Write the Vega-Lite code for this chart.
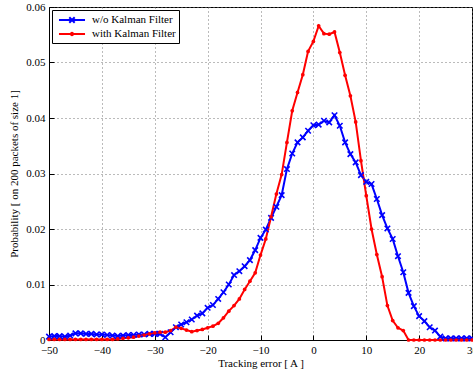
{
  "$schema": "https://vega.github.io/schema/vega-lite/v6.json",
  "width": 423,
  "height": 333,
  "autosize": {"type": "none"},
  "padding": {"left": 49, "top": 7, "right": 1, "bottom": 34},
  "background": "white",
  "config": {
    "font": "Liberation Serif",
    "view": {"stroke": "black", "strokeWidth": 1},
    "axis": {
      "labelFont": "Liberation Serif",
      "titleFont": "Liberation Serif",
      "labelFontSize": 11,
      "titleFontSize": 11,
      "titleFontWeight": "normal",
      "labelColor": "black",
      "titleColor": "black",
      "domainColor": "black",
      "tickColor": "black",
      "gridColor": "#777777",
      "gridDash": [1, 3],
      "gridWidth": 1,
      "tickSize": -5,
      "labelFlush": false,
      "labelBound": false,
      "labelOverlap": false
    },
    "legend": {
      "labelFont": "Liberation Serif",
      "labelFontSize": 11,
      "labelColor": "black"
    }
  },
  "data": {
    "values": [
      {"error": -50, "series": "w/o Kalman Filter", "prob": 0.0006},
      {"error": -49, "series": "w/o Kalman Filter", "prob": 0.0007},
      {"error": -48, "series": "w/o Kalman Filter", "prob": 0.0007},
      {"error": -47, "series": "w/o Kalman Filter", "prob": 0.0006},
      {"error": -46, "series": "w/o Kalman Filter", "prob": 0.0008},
      {"error": -45, "series": "w/o Kalman Filter", "prob": 0.0012},
      {"error": -44, "series": "w/o Kalman Filter", "prob": 0.0012},
      {"error": -43, "series": "w/o Kalman Filter", "prob": 0.0011},
      {"error": -42, "series": "w/o Kalman Filter", "prob": 0.0011},
      {"error": -41, "series": "w/o Kalman Filter", "prob": 0.0010},
      {"error": -40, "series": "w/o Kalman Filter", "prob": 0.0010},
      {"error": -39, "series": "w/o Kalman Filter", "prob": 0.0009},
      {"error": -38, "series": "w/o Kalman Filter", "prob": 0.0008},
      {"error": -37, "series": "w/o Kalman Filter", "prob": 0.0007},
      {"error": -36, "series": "w/o Kalman Filter", "prob": 0.0008},
      {"error": -35, "series": "w/o Kalman Filter", "prob": 0.0009},
      {"error": -34, "series": "w/o Kalman Filter", "prob": 0.0009},
      {"error": -33, "series": "w/o Kalman Filter", "prob": 0.0010},
      {"error": -32, "series": "w/o Kalman Filter", "prob": 0.0010},
      {"error": -31, "series": "w/o Kalman Filter", "prob": 0.0011},
      {"error": -30, "series": "w/o Kalman Filter", "prob": 0.0011},
      {"error": -29, "series": "w/o Kalman Filter", "prob": 0.0011},
      {"error": -28, "series": "w/o Kalman Filter", "prob": 0.0005},
      {"error": -27, "series": "w/o Kalman Filter", "prob": 0.0014},
      {"error": -26, "series": "w/o Kalman Filter", "prob": 0.0023},
      {"error": -25, "series": "w/o Kalman Filter", "prob": 0.0028},
      {"error": -24, "series": "w/o Kalman Filter", "prob": 0.0032},
      {"error": -23, "series": "w/o Kalman Filter", "prob": 0.0037},
      {"error": -22, "series": "w/o Kalman Filter", "prob": 0.0044},
      {"error": -21, "series": "w/o Kalman Filter", "prob": 0.0048},
      {"error": -20, "series": "w/o Kalman Filter", "prob": 0.0058},
      {"error": -19, "series": "w/o Kalman Filter", "prob": 0.0063},
      {"error": -18, "series": "w/o Kalman Filter", "prob": 0.0074},
      {"error": -17, "series": "w/o Kalman Filter", "prob": 0.0086},
      {"error": -16, "series": "w/o Kalman Filter", "prob": 0.0100},
      {"error": -15, "series": "w/o Kalman Filter", "prob": 0.0117},
      {"error": -14, "series": "w/o Kalman Filter", "prob": 0.0124},
      {"error": -13, "series": "w/o Kalman Filter", "prob": 0.0133},
      {"error": -12, "series": "w/o Kalman Filter", "prob": 0.0144},
      {"error": -11, "series": "w/o Kalman Filter", "prob": 0.0162},
      {"error": -10, "series": "w/o Kalman Filter", "prob": 0.0184},
      {"error": -9, "series": "w/o Kalman Filter", "prob": 0.0199},
      {"error": -8, "series": "w/o Kalman Filter", "prob": 0.0220},
      {"error": -7, "series": "w/o Kalman Filter", "prob": 0.0240},
      {"error": -6, "series": "w/o Kalman Filter", "prob": 0.0261},
      {"error": -5, "series": "w/o Kalman Filter", "prob": 0.0308},
      {"error": -4, "series": "w/o Kalman Filter", "prob": 0.0336},
      {"error": -3, "series": "w/o Kalman Filter", "prob": 0.0356},
      {"error": -2, "series": "w/o Kalman Filter", "prob": 0.0365},
      {"error": -1, "series": "w/o Kalman Filter", "prob": 0.0377},
      {"error": 0, "series": "w/o Kalman Filter", "prob": 0.0387},
      {"error": 1, "series": "w/o Kalman Filter", "prob": 0.0388},
      {"error": 2, "series": "w/o Kalman Filter", "prob": 0.0395},
      {"error": 3, "series": "w/o Kalman Filter", "prob": 0.0392},
      {"error": 4, "series": "w/o Kalman Filter", "prob": 0.0405},
      {"error": 5, "series": "w/o Kalman Filter", "prob": 0.0386},
      {"error": 6, "series": "w/o Kalman Filter", "prob": 0.0356},
      {"error": 7, "series": "w/o Kalman Filter", "prob": 0.0335},
      {"error": 8, "series": "w/o Kalman Filter", "prob": 0.0320},
      {"error": 9, "series": "w/o Kalman Filter", "prob": 0.0297},
      {"error": 10, "series": "w/o Kalman Filter", "prob": 0.0285},
      {"error": 11, "series": "w/o Kalman Filter", "prob": 0.0281},
      {"error": 12, "series": "w/o Kalman Filter", "prob": 0.0254},
      {"error": 13, "series": "w/o Kalman Filter", "prob": 0.0225},
      {"error": 14, "series": "w/o Kalman Filter", "prob": 0.0201},
      {"error": 15, "series": "w/o Kalman Filter", "prob": 0.0182},
      {"error": 16, "series": "w/o Kalman Filter", "prob": 0.0151},
      {"error": 17, "series": "w/o Kalman Filter", "prob": 0.0122},
      {"error": 18, "series": "w/o Kalman Filter", "prob": 0.0085},
      {"error": 19, "series": "w/o Kalman Filter", "prob": 0.0061},
      {"error": 20, "series": "w/o Kalman Filter", "prob": 0.0043},
      {"error": 21, "series": "w/o Kalman Filter", "prob": 0.0034},
      {"error": 22, "series": "w/o Kalman Filter", "prob": 0.0023},
      {"error": 23, "series": "w/o Kalman Filter", "prob": 0.0017},
      {"error": 24, "series": "w/o Kalman Filter", "prob": 0.0006},
      {"error": 25, "series": "w/o Kalman Filter", "prob": 0.0003},
      {"error": 26, "series": "w/o Kalman Filter", "prob": 0.0003},
      {"error": 27, "series": "w/o Kalman Filter", "prob": 0.0003},
      {"error": 28, "series": "w/o Kalman Filter", "prob": 0.0003},
      {"error": 29, "series": "w/o Kalman Filter", "prob": 0.0003},
      {"error": 30, "series": "w/o Kalman Filter", "prob": 0.0003},
      {"error": -50, "series": "with Kalman Filter", "prob": 0.0001},
      {"error": -49, "series": "with Kalman Filter", "prob": 0.0001},
      {"error": -48, "series": "with Kalman Filter", "prob": 0.0001},
      {"error": -47, "series": "with Kalman Filter", "prob": 0.0001},
      {"error": -46, "series": "with Kalman Filter", "prob": 0.0001},
      {"error": -45, "series": "with Kalman Filter", "prob": 0.0001},
      {"error": -44, "series": "with Kalman Filter", "prob": 0.0001},
      {"error": -43, "series": "with Kalman Filter", "prob": 0.0001},
      {"error": -42, "series": "with Kalman Filter", "prob": 0.0001},
      {"error": -41, "series": "with Kalman Filter", "prob": 0.0001},
      {"error": -40, "series": "with Kalman Filter", "prob": 0.0001},
      {"error": -39, "series": "with Kalman Filter", "prob": 0.0001},
      {"error": -38, "series": "with Kalman Filter", "prob": 0.0001},
      {"error": -37, "series": "with Kalman Filter", "prob": 0.0002},
      {"error": -36, "series": "with Kalman Filter", "prob": 0.0003},
      {"error": -35, "series": "with Kalman Filter", "prob": 0.0004},
      {"error": -34, "series": "with Kalman Filter", "prob": 0.0005},
      {"error": -33, "series": "with Kalman Filter", "prob": 0.0007},
      {"error": -32, "series": "with Kalman Filter", "prob": 0.0009},
      {"error": -31, "series": "with Kalman Filter", "prob": 0.0011},
      {"error": -30, "series": "with Kalman Filter", "prob": 0.0013},
      {"error": -29, "series": "with Kalman Filter", "prob": 0.0014},
      {"error": -28, "series": "with Kalman Filter", "prob": 0.0014},
      {"error": -27, "series": "with Kalman Filter", "prob": 0.0017},
      {"error": -26, "series": "with Kalman Filter", "prob": 0.0023},
      {"error": -25, "series": "with Kalman Filter", "prob": 0.0021},
      {"error": -24, "series": "with Kalman Filter", "prob": 0.0018},
      {"error": -23, "series": "with Kalman Filter", "prob": 0.0015},
      {"error": -22, "series": "with Kalman Filter", "prob": 0.0017},
      {"error": -21, "series": "with Kalman Filter", "prob": 0.0019},
      {"error": -20, "series": "with Kalman Filter", "prob": 0.0022},
      {"error": -19, "series": "with Kalman Filter", "prob": 0.0025},
      {"error": -18, "series": "with Kalman Filter", "prob": 0.0030},
      {"error": -17, "series": "with Kalman Filter", "prob": 0.0040},
      {"error": -16, "series": "with Kalman Filter", "prob": 0.0052},
      {"error": -15, "series": "with Kalman Filter", "prob": 0.0062},
      {"error": -14, "series": "with Kalman Filter", "prob": 0.0074},
      {"error": -13, "series": "with Kalman Filter", "prob": 0.0091},
      {"error": -12, "series": "with Kalman Filter", "prob": 0.0106},
      {"error": -11, "series": "with Kalman Filter", "prob": 0.0121},
      {"error": -10, "series": "with Kalman Filter", "prob": 0.0153},
      {"error": -9, "series": "with Kalman Filter", "prob": 0.0182},
      {"error": -8, "series": "with Kalman Filter", "prob": 0.0222},
      {"error": -7, "series": "with Kalman Filter", "prob": 0.0263},
      {"error": -6, "series": "with Kalman Filter", "prob": 0.0298},
      {"error": -5, "series": "with Kalman Filter", "prob": 0.0356},
      {"error": -4, "series": "with Kalman Filter", "prob": 0.0413},
      {"error": -3, "series": "with Kalman Filter", "prob": 0.0446},
      {"error": -2, "series": "with Kalman Filter", "prob": 0.0478},
      {"error": -1, "series": "with Kalman Filter", "prob": 0.0520},
      {"error": 0, "series": "with Kalman Filter", "prob": 0.0538},
      {"error": 1, "series": "with Kalman Filter", "prob": 0.0566},
      {"error": 2, "series": "with Kalman Filter", "prob": 0.0552},
      {"error": 3, "series": "with Kalman Filter", "prob": 0.0551},
      {"error": 4, "series": "with Kalman Filter", "prob": 0.0555},
      {"error": 5, "series": "with Kalman Filter", "prob": 0.0518},
      {"error": 6, "series": "with Kalman Filter", "prob": 0.0477},
      {"error": 7, "series": "with Kalman Filter", "prob": 0.0440},
      {"error": 8, "series": "with Kalman Filter", "prob": 0.0393},
      {"error": 9, "series": "with Kalman Filter", "prob": 0.0323},
      {"error": 10, "series": "with Kalman Filter", "prob": 0.0260},
      {"error": 11, "series": "with Kalman Filter", "prob": 0.0200},
      {"error": 12, "series": "with Kalman Filter", "prob": 0.0154},
      {"error": 13, "series": "with Kalman Filter", "prob": 0.0114},
      {"error": 14, "series": "with Kalman Filter", "prob": 0.0062},
      {"error": 15, "series": "with Kalman Filter", "prob": 0.0035},
      {"error": 16, "series": "with Kalman Filter", "prob": 0.0022},
      {"error": 17, "series": "with Kalman Filter", "prob": 0.0017},
      {"error": 18, "series": "with Kalman Filter", "prob": 0.0},
      {"error": 19, "series": "with Kalman Filter", "prob": 0.0},
      {"error": 20, "series": "with Kalman Filter", "prob": 0.0},
      {"error": 21, "series": "with Kalman Filter", "prob": 0.0},
      {"error": 22, "series": "with Kalman Filter", "prob": 0.0},
      {"error": 23, "series": "with Kalman Filter", "prob": 0.0},
      {"error": 24, "series": "with Kalman Filter", "prob": 0.0},
      {"error": 25, "series": "with Kalman Filter", "prob": 0.0},
      {"error": 26, "series": "with Kalman Filter", "prob": 0.0},
      {"error": 27, "series": "with Kalman Filter", "prob": 0.0},
      {"error": 28, "series": "with Kalman Filter", "prob": 0.0},
      {"error": 29, "series": "with Kalman Filter", "prob": 0.0},
      {"error": 30, "series": "with Kalman Filter", "prob": 0.0}
    ]
  },
  "encoding": {
    "x": {
      "field": "error",
      "type": "quantitative",
      "scale": {"domain": [-50, 30], "nice": false, "zero": false},
      "axis": {"title": "Tracking error [ A ]", "values": [-50, -40, -30, -20, -10, 0, 10, 20, 30], "labelPadding": 9, "titlePadding": 2}
    },
    "y": {
      "field": "prob",
      "type": "quantitative",
      "scale": {"domain": [0, 0.06], "nice": false},
      "axis": {"title": "Probability [ on 200 packets of size 1]", "values": [0, 0.01, 0.02, 0.03, 0.04, 0.05, 0.06], "format": ".2~f", "labelPadding": 9, "titlePadding": 6}
    }
  },
  "layer": [
    {
      "mark": {"type": "point", "filled": false, "size": 144, "strokeWidth": 2, "opacity": 0},
      "encoding": {
        "color": {
          "field": "series",
          "type": "nominal",
          "scale": {"domain": ["w/o Kalman Filter", "with Kalman Filter"], "range": ["#0000ff", "#ff0000"]},
          "legend": {
            "title": null,
            "orient": "top-left",
            "offset": 3,
            "padding": 3,
            "strokeColor": "black",
            "fillColor": "white",
            "symbolSize": 144,
            "symbolStrokeWidth": 2,
            "symbolOpacity": 1,
            "symbolOffset": 10,
            "rowPadding": -2,
            "labelOffset": 13
          }
        },
        "shape": {
          "field": "series",
          "type": "nominal",
          "scale": {"domain": ["w/o Kalman Filter", "with Kalman Filter"], "range": ["M-2.17,0L2.17,0M-0.45,-0.45L0.45,0.45M-0.45,0.45L0.45,-0.45", "M-2.17,0L2.17,0M-0.2,0A0.2,0.2 0 1,0 0.2,0A0.2,0.2 0 1,0 -0.2,0"]}
        }
      }
    },
    {
      "mark": {"type": "line", "strokeWidth": 2},
      "encoding": {
        "stroke": {"field": "series", "type": "nominal", "scale": {"domain": ["w/o Kalman Filter", "with Kalman Filter"], "range": ["#0000ff", "#ff0000"]}, "legend": null}
      }
    },
    {
      "transform": [{"filter": "datum.series == 'w/o Kalman Filter'"}],
      "mark": {"type": "point", "shape": "M-1,-1L1,1M-1,1L1,-1", "filled": false, "size": 30, "strokeWidth": 1.6, "color": "#0000ff", "opacity": 1}
    },
    {
      "transform": [{"filter": "datum.series == 'with Kalman Filter'"}],
      "mark": {"type": "point", "shape": "circle", "filled": true, "size": 14, "color": "#ff0000", "opacity": 1}
    }
  ]
}
